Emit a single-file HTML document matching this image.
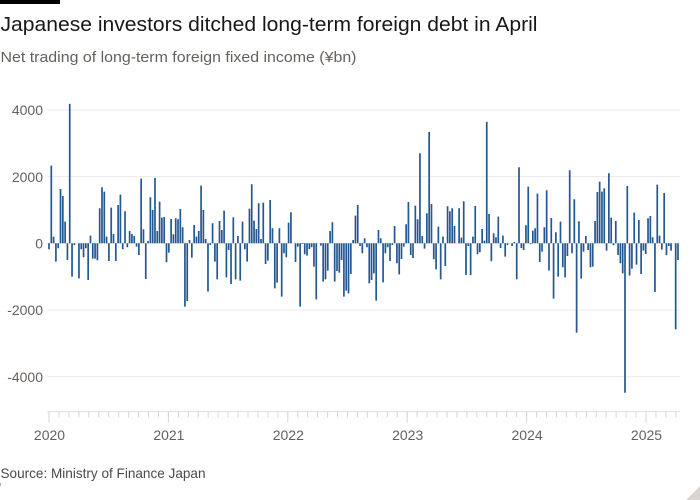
<!DOCTYPE html>
<html>
<head>
<meta charset="utf-8">
<style>
html,body{margin:0;padding:0;background:#fff;}
svg{display:block;font-family:"Liberation Sans",sans-serif;}
</style>
</head>
<body>
<svg width="700" height="500" viewBox="0 0 700 500" xmlns="http://www.w3.org/2000/svg">
<rect width="700" height="500" fill="#fff"/>
<rect x="0" y="0" width="60" height="4" fill="#000"/>
<text x="0.5" y="31" font-size="20" fill="#1a1817" textLength="537" lengthAdjust="spacingAndGlyphs">Japanese investors ditched long-term foreign debt in April</text>
<text x="0.5" y="62" font-size="14.5" fill="#66605c" textLength="356" lengthAdjust="spacingAndGlyphs">Net trading of long-term foreign fixed income (¥bn)</text>

<g stroke="#ece9e6" stroke-width="1">
<line x1="47" y1="109.9" x2="680" y2="109.9"/>
<line x1="47" y1="176.6" x2="680" y2="176.6"/>
<line x1="47" y1="243.3" x2="680" y2="243.3"/>
<line x1="47" y1="310" x2="680" y2="310"/>
<line x1="47" y1="376.7" x2="680" y2="376.7"/>
</g>
<g font-size="14" fill="#66605c" text-anchor="end">
<text x="43" y="115">4000</text>
<text x="43" y="182">2000</text>
<text x="43" y="248.5">0</text>
<text x="43" y="315">-2000</text>
<text x="43" y="382">-4000</text>
</g>

<g transform="translate(49,243.3) scale(2.304,-0.03335)">
<path fill="#255892" d="M-.37 0
h.74V-180h-.74zm1 0h.74V2330h-.74zm1 0h.74V200h-.74zm1 0h.74V-550h-.74zm1 0h.74V-150h-.74zm1 0h.74V1630h-.74zm1 0h.74V1420h-.74zm1 0h.74V650h-.74zm1 0h.74V-500h-.74zm1 0h.74V4180h-.74zm1 0
h.74V-1000h-.74zm1 0h.74V-50h-.74zm1 0h.74V0h-.74zm1 0h.74V-1050h-.74zm1 0h.74V-180h-.74zm1 0h.74V-420h-.74zm1 0h.74V-150h-.74zm1 0h.74V-1100h-.74zm1 0h.74V230h-.74zm1 0h.74V-460h-.74zm1 0
h.74V-460h-.74zm1 0h.74V-510h-.74zm1 0h.74V1050h-.74zm1 0h.74V1680h-.74zm1 0h.74V1550h-.74zm1 0h.74V200h-.74zm1 0h.74V-530h-.74zm1 0h.74V1070h-.74zm1 0h.74V280h-.74zm1 0h.74V-530h-.74zm1 0
h.74V1150h-.74zm1 0h.74V1460h-.74zm1 0h.74V-180h-.74zm1 0h.74V960h-.74zm1 0h.74V-120h-.74zm1 0h.74V370h-.74zm1 0h.74V280h-.74zm1 0h.74V220h-.74zm1 0h.74V-100h-.74zm1 0h.74V-350h-.74zm1 0
h.74V1940h-.74zm1 0h.74V420h-.74zm1 0h.74V-1070h-.74zm1 0h.74V70h-.74zm1 0h.74V1380h-.74zm1 0h.74V1000h-.74zm1 0h.74V1960h-.74zm1 0h.74V370h-.74zm1 0h.74V1250h-.74zm1 0h.74V770h-.74zm1 0
h.74V790h-.74zm1 0h.74V-570h-.74zm1 0h.74V-280h-.74zm1 0h.74V730h-.74zm1 0h.74V270h-.74zm1 0h.74V750h-.74zm1 0h.74V720h-.74zm1 0h.74V1030h-.74zm1 0h.74V480h-.74zm1 0h.74V-1900h-.74zm1 0
h.74V-1730h-.74zm1 0h.74V100h-.74zm1 0h.74V-430h-.74zm1 0h.74V550h-.74zm1 0h.74V200h-.74zm1 0h.74V370h-.74zm1 0h.74V1730h-.74zm1 0h.74V1000h-.74zm1 0h.74V130h-.74zm1 0h.74V-1450h-.74zm1 0
h.74V-50h-.74zm1 0h.74V600h-.74zm1 0h.74V-550h-.74zm1 0h.74V-1080h-.74zm1 0h.74V670h-.74zm1 0h.74V400h-.74zm1 0h.74V980h-.74zm1 0h.74V-1020h-.74zm1 0h.74V-200h-.74zm1 0h.74V-1220h-.74zm1 0
h.74V780h-.74zm1 0h.74V-1080h-.74zm1 0h.74V220h-.74zm1 0h.74V-1120h-.74zm1 0h.74V650h-.74zm1 0h.74V-180h-.74zm1 0h.74V-550h-.74zm1 0h.74V1040h-.74zm1 0h.74V1770h-.74zm1 0h.74V680h-.74zm1 0
h.74V430h-.74zm1 0h.74V1200h-.74zm1 0h.74V130h-.74zm1 0h.74V1220h-.74zm1 0h.74V-620h-.74zm1 0h.74V-520h-.74zm1 0h.74V1300h-.74zm1 0h.74V450h-.74zm1 0h.74V-1350h-.74zm1 0h.74V-1180h-.74zm1 0
h.74V450h-.74zm1 0h.74V-1600h-.74zm1 0h.74V-300h-.74zm1 0h.74V-420h-.74zm1 0h.74V620h-.74zm1 0h.74V930h-.74zm1 0h.74V0h-.74zm1 0h.74V-560h-.74zm1 0h.74V-100h-.74zm1 0h.74V-1900h-.74zm1 0
h.74V-20h-.74zm1 0h.74V-330h-.74zm1 0h.74V-370h-.74zm1 0h.74V-170h-.74zm1 0h.74V-120h-.74zm1 0h.74V-700h-.74zm1 0h.74V-1680h-.74zm1 0h.74V0h-.74zm1 0h.74V-70h-.74zm1 0h.74V-1150h-.74zm1 0
h.74V-1080h-.74zm1 0h.74V-820h-.74zm1 0h.74V370h-.74zm1 0h.74V630h-.74zm1 0h.74V-1150h-.74zm1 0h.74V-830h-.74zm1 0h.74V-880h-.74zm1 0h.74V-500h-.74zm1 0h.74V-1600h-.74zm1 0h.74V-1420h-.74zm1 0
h.74V-1500h-.74zm1 0h.74V-920h-.74zm1 0h.74V100h-.74zm1 0h.74V830h-.74zm1 0h.74V1150h-.74zm1 0h.74V-80h-.74zm1 0h.74V-300h-.74zm1 0h.74V150h-.74zm1 0h.74V-120h-.74zm1 0h.74V-1200h-.74zm1 0
h.74V-1100h-.74zm1 0h.74V-900h-.74zm1 0h.74V-1720h-.74zm1 0h.74V400h-.74zm1 0h.74V150h-.74zm1 0h.74V-1170h-.74zm1 0h.74V-300h-.74zm1 0h.74V-120h-.74zm1 0h.74V-530h-.74zm1 0h.74V-50h-.74zm1 0
h.74V520h-.74zm1 0h.74V-600h-.74zm1 0h.74V-930h-.74zm1 0h.74V-470h-.74zm1 0h.74V-100h-.74zm1 0h.74V570h-.74zm1 0h.74V1240h-.74zm1 0h.74V-350h-.74zm1 0h.74V-440h-.74zm1 0h.74V1130h-.74zm1 0
h.74V720h-.74zm1 0h.74V2700h-.74zm1 0h.74V220h-.74zm1 0h.74V-160h-.74zm1 0h.74V900h-.74zm1 0h.74V3340h-.74zm1 0h.74V1180h-.74zm1 0h.74V-480h-.74zm1 0h.74V-780h-.74zm1 0h.74V500h-.74zm1 0
h.74V-1080h-.74zm1 0h.74V200h-.74zm1 0h.74V-680h-.74zm1 0h.74V1110h-.74zm1 0h.74V960h-.74zm1 0h.74V1050h-.74zm1 0h.74V520h-.74zm1 0h.74V0h-.74zm1 0h.74V1050h-.74zm1 0h.74V170h-.74zm1 0
h.74V1260h-.74zm1 0h.74V-950h-.74zm1 0h.74V-80h-.74zm1 0h.74V-950h-.74zm1 0h.74V200h-.74zm1 0h.74V1120h-.74zm1 0h.74V-330h-.74zm1 0h.74V-270h-.74zm1 0h.74V430h-.74zm1 0h.74V80h-.74zm1 0
h.74V3640h-.74zm1 0h.74V880h-.74zm1 0h.74V-540h-.74zm1 0h.74V300h-.74zm1 0h.74V180h-.74zm1 0h.74V800h-.74zm1 0h.74V-140h-.74zm1 0h.74V230h-.74zm1 0h.74V-400h-.74zm1 0h.74V-50h-.74zm1 0
h.74V0h-.74zm1 0h.74V-80h-.74zm1 0h.74V40h-.74zm1 0h.74V-1080h-.74zm1 0h.74V2280h-.74zm1 0h.74V-140h-.74zm1 0h.74V-200h-.74zm1 0h.74V540h-.74zm1 0h.74V1700h-.74zm1 0h.74V-30h-.74zm1 0
h.74V380h-.74zm1 0h.74V450h-.74zm1 0h.74V1490h-.74zm1 0h.74V-560h-.74zm1 0h.74V-250h-.74zm1 0h.74V480h-.74zm1 0h.74V1590h-.74zm1 0h.74V-820h-.74zm1 0h.74V760h-.74zm1 0h.74V-1660h-.74zm1 0
h.74V330h-.74zm1 0h.74V-1000h-.74zm1 0h.74V650h-.74zm1 0h.74V-720h-.74zm1 0h.74V-1020h-.74zm1 0h.74V-380h-.74zm1 0h.74V2190h-.74zm1 0h.74V-300h-.74zm1 0h.74V1320h-.74zm1 0h.74V-2680h-.74zm1 0
h.74V660h-.74zm1 0h.74V-1060h-.74zm1 0h.74V-250h-.74zm1 0h.74V220h-.74zm1 0h.74V-200h-.74zm1 0h.74V-720h-.74zm1 0h.74V-700h-.74zm1 0h.74V670h-.74zm1 0h.74V1540h-.74zm1 0h.74V1850h-.74zm1 0
h.74V1550h-.74zm1 0h.74V1650h-.74zm1 0h.74V-220h-.74zm1 0h.74V2100h-.74zm1 0h.74V770h-.74zm1 0h.74V-60h-.74zm1 0h.74V670h-.74zm1 0h.74V-350h-.74zm1 0h.74V-600h-.74zm1 0h.74V-900h-.74zm1 0
h.74V-4480h-.74zm1 0h.74V1720h-.74zm1 0h.74V-970h-.74zm1 0h.74V-760h-.74zm1 0h.74V920h-.74zm1 0h.74V-640h-.74zm1 0h.74V700h-.74zm1 0h.74V-920h-.74zm1 0h.74V-220h-.74zm1 0h.74V-320h-.74zm1 0
h.74V750h-.74zm1 0h.74V820h-.74zm1 0h.74V180h-.74zm1 0h.74V-1460h-.74zm1 0h.74V1760h-.74zm1 0h.74V230h-.74zm1 0h.74V-190h-.74zm1 0h.74V1510h-.74zm1 0h.74V-360h-.74zm1 0h.74V-80h-.74zm1 0
h.74V-220h-.74zm1 0h.74V0h-.74zm1 0h.74V-2580h-.74zm1 0h.74V-500h-.74z"/>
</g>

<line x1="47" y1="411.5" x2="680" y2="411.5" stroke="#e3dfdb" stroke-width="1"/>
<path fill="none" stroke="#d9d5d1" stroke-width="1" d="M49 411.5v6
m9.95-6v6m9.95-6v6m9.95-6v6m9.95-6v6m9.95-6v6m9.95-6v6m9.95-6v6m9.95-6v6m9.95-6v6
m9.95-6v6m9.95-6v6m9.95-6v6m9.95-6v6m9.95-6v6m9.95-6v6m9.95-6v6m9.95-6v6m9.95-6v6
m9.95-6v6m9.95-6v6m9.95-6v6m9.95-6v6m9.95-6v6m9.95-6v6m9.95-6v6m9.95-6v6m9.95-6v6
m9.95-6v6m9.95-6v6m9.95-6v6m9.95-6v6m9.95-6v6m9.95-6v6m9.95-6v6m9.95-6v6m9.95-6v6
m9.95-6v6m9.95-6v6m9.95-6v6m9.95-6v6m9.95-6v6m9.95-6v6m9.95-6v6m9.95-6v6m9.95-6v6
m9.95-6v6m9.95-6v6m9.95-6v6m9.95-6v6m9.95-6v6m9.95-6v6m9.95-6v6m9.95-6v6m9.95-6v6
m9.95-6v6m9.95-6v6m9.95-6v6m9.95-6v6m9.95-6v6m9.95-6v6m9.95-6v6m9.95-6v6m9.95-6v6"/>
<path fill="none" stroke="#d9d5d1" stroke-width="1" d="M49 411.5v11M168.4 411.5v11M287.8 411.5v11M407.2 411.5v11M526.6 411.5v11M646 411.5v11"/>

<g font-size="14" fill="#66605c" text-anchor="middle">
<text x="49.5" y="440">2020</text>
<text x="168.9" y="440">2021</text>
<text x="288.3" y="440">2022</text>
<text x="407.7" y="440">2023</text>
<text x="527.1" y="440">2024</text>
<text x="646.5" y="440">2025</text>
</g>

<text x="0.5" y="478" font-size="14" fill="#4d4845" textLength="205" lengthAdjust="spacingAndGlyphs">Source: Ministry of Finance Japan</text>
<rect x="0" y="483" width="1" height="3" fill="#b0aaa5"/>
<polygon points="686,500 700,486 700,500" fill="#d9d5d1"/>
</svg>
</body>
</html>
